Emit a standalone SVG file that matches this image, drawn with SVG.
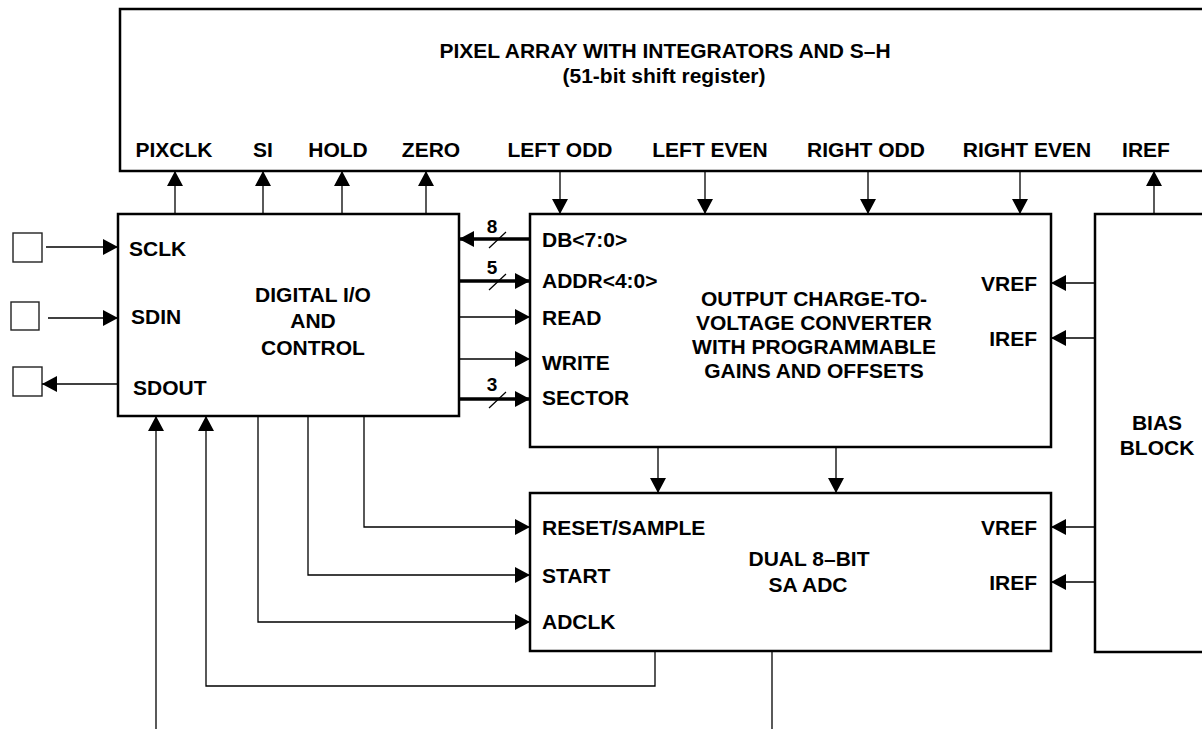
<svg xmlns="http://www.w3.org/2000/svg" width="1202" height="729" viewBox="0 0 1202 729">
<style>
.box{fill:#fff;stroke:#000;stroke-width:2.5}
.pin{fill:#fff;stroke:#222;stroke-width:1.4}
.t{font-family:"Liberation Sans",Arial,sans-serif;font-weight:bold;font-size:21px;fill:#000}
.m{text-anchor:middle}
.e{text-anchor:end}
.w{fill:none;stroke:#000;stroke-width:1.3}
.bus{fill:none;stroke:#000;stroke-width:3.5}
.sl{fill:none;stroke:#000;stroke-width:1.2}
.n{font-family:"Liberation Sans",Arial,sans-serif;font-weight:bold;font-size:19px;fill:#000;text-anchor:middle}
</style>
<defs>
<marker id="ah" viewBox="0 0 15 16" refX="15" refY="8" markerWidth="15" markerHeight="16" markerUnits="userSpaceOnUse" orient="auto">
<path d="M0,0 L15,8 L0,16 Z" fill="#000"/>
</marker>
</defs>
<rect width="1202" height="729" fill="#fff"/>

<g id="pixel-array">
<rect class="box" x="120" y="9" width="1100" height="162"/>
<text class="t m" x="665" y="58">PIXEL ARRAY WITH INTEGRATORS AND S–H</text>
<text class="t m" x="664" y="83">(51-bit shift register)</text>
<text class="t m" x="174" y="157">PIXCLK</text>
<text class="t m" x="263" y="157">SI</text>
<text class="t m" x="338" y="157">HOLD</text>
<text class="t m" x="431" y="157">ZERO</text>
<text class="t m" x="560" y="157">LEFT ODD</text>
<text class="t m" x="710" y="157">LEFT EVEN</text>
<text class="t m" x="866" y="157">RIGHT ODD</text>
<text class="t m" x="1027" y="157">RIGHT EVEN</text>
<text class="t m" x="1146" y="157">IREF</text>
</g>

<g id="pins">
<rect class="pin" x="13" y="233" width="29" height="29"/>
<rect class="pin" x="11" y="302" width="28" height="28"/>
<rect class="pin" x="13" y="367" width="29" height="29"/>
</g>

<g id="digital-io">
<rect class="box" x="118" y="214" width="341" height="202"/>
<text class="t" x="129" y="256">SCLK</text>
<text class="t" x="131" y="324">SDIN</text>
<text class="t" x="133" y="395">SDOUT</text>
<text class="t m" x="313" y="302">DIGITAL I/O</text>
<text class="t m" x="313" y="328">AND</text>
<text class="t m" x="313" y="355">CONTROL</text>
</g>

<g id="output-converter">
<rect class="box" x="530" y="214" width="521" height="233"/>
<text class="t" x="542" y="247">DB&lt;7:0&gt;</text>
<text class="t" x="542" y="288">ADDR&lt;4:0&gt;</text>
<text class="t" x="542" y="325">READ</text>
<text class="t" x="542" y="370">WRITE</text>
<text class="t" x="542" y="405">SECTOR</text>
<text class="t m" x="814" y="306">OUTPUT CHARGE-TO-</text>
<text class="t m" x="814" y="330">VOLTAGE CONVERTER</text>
<text class="t m" x="814" y="354">WITH PROGRAMMABLE</text>
<text class="t m" x="814" y="378">GAINS AND OFFSETS</text>
<text class="t e" x="1037" y="291">VREF</text>
<text class="t e" x="1037" y="346">IREF</text>
</g>

<g id="adc">
<rect class="box" x="530" y="493" width="521" height="158"/>
<text class="t" x="542" y="535">RESET/SAMPLE</text>
<text class="t" x="542" y="583">START</text>
<text class="t" x="542" y="629">ADCLK</text>
<text class="t m" x="809" y="566">DUAL 8–BIT</text>
<text class="t m" x="808" y="592">SA ADC</text>
<text class="t e" x="1037" y="535">VREF</text>
<text class="t e" x="1037" y="590">IREF</text>
</g>

<g id="bias-block">
<rect class="box" x="1095" y="214" width="125" height="438"/>
<text class="t m" x="1157" y="430">BIAS</text>
<text class="t m" x="1157" y="455">BLOCK</text>
</g>

<g id="connectors">
<path class="w" d="M175,214 V171" marker-end="url(#ah)"/>
<path class="w" d="M263,214 V171" marker-end="url(#ah)"/>
<path class="w" d="M342,214 V171" marker-end="url(#ah)"/>
<path class="w" d="M426,214 V171" marker-end="url(#ah)"/>
<path class="w" d="M560,171 V214" marker-end="url(#ah)"/>
<path class="w" d="M705,171 V214" marker-end="url(#ah)"/>
<path class="w" d="M868,171 V214" marker-end="url(#ah)"/>
<path class="w" d="M1020,171 V214" marker-end="url(#ah)"/>
<path class="w" d="M1154,214 V171" marker-end="url(#ah)"/>

<path class="w" d="M46,247 H118" marker-end="url(#ah)"/>
<path class="w" d="M48,318 H118" marker-end="url(#ah)"/>
<path class="w" d="M118,384 H42" marker-end="url(#ah)"/>

<path class="bus" d="M530,239 H459" marker-end="url(#ah)"/>
<path class="bus" d="M459,281 H530" marker-end="url(#ah)"/>
<path class="w" d="M459,317 H530" marker-end="url(#ah)"/>
<path class="w" d="M459,359 H530" marker-end="url(#ah)"/>
<path class="bus" d="M459,399 H530" marker-end="url(#ah)"/>
<path class="sl" d="M489,248 L506,232 M489,290 L506,274 M489,408 L506,392"/>
<text class="n" x="492" y="233">8</text>
<text class="n" x="492" y="274">5</text>
<text class="n" x="492" y="391">3</text>

<path class="w" d="M658,447 V493" marker-end="url(#ah)"/>
<path class="w" d="M836,447 V493" marker-end="url(#ah)"/>

<path class="w" d="M1095,283 H1051" marker-end="url(#ah)"/>
<path class="w" d="M1095,338 H1051" marker-end="url(#ah)"/>
<path class="w" d="M1095,527 H1051" marker-end="url(#ah)"/>
<path class="w" d="M1095,582 H1051" marker-end="url(#ah)"/>

<path class="w" d="M364,416 V527 H530" marker-end="url(#ah)"/>
<path class="w" d="M308,416 V575 H530" marker-end="url(#ah)"/>
<path class="w" d="M258,416 V622 H530" marker-end="url(#ah)"/>

<path class="w" d="M655,651 V686 H206 V416" marker-end="url(#ah)"/>
<path class="w" d="M156,729 V416" marker-end="url(#ah)"/>
<path class="w" d="M772,651 V729"/>
</g>
</svg>
